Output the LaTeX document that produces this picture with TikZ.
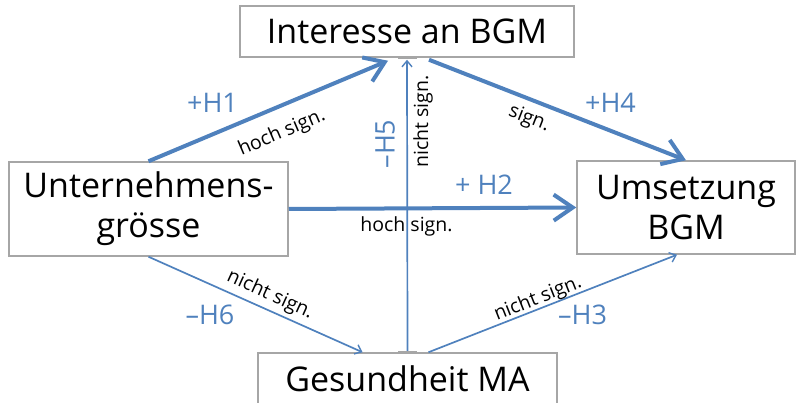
\documentclass[tikz,border=0pt]{standalone}
\usepackage{fontspec}
\setmainfont{Open Sans}
\usetikzlibrary{arrows.meta,calc}
\definecolor{boxgray}{RGB}{166,166,166}
\definecolor{linkblue}{RGB}{79,129,189}
\begin{document}
\begin{tikzpicture}[x=1pt,y=-1pt,
  box/.style={draw=boxgray, line width=1.5pt, fill=white, inner sep=0pt,
    align=center, font=\fontsize{34}{40}\selectfont},
  strong/.style={draw=linkblue, line width=4pt,
    -{Straight Barb[length=19pt,width=26pt,line width=4pt]}},
  weak/.style={draw=linkblue, line width=1.7pt,
    -{Straight Barb[length=6pt,width=10pt,line width=1.4pt]}},
  hyp/.style={text=linkblue, font=\fontsize{27}{32}\selectfont, inner sep=0pt},
  sig/.style={font=\fontsize{19.5}{23}\selectfont, inner sep=0pt},
  handle/.style={fill=boxgray, draw=none}]

\useasboundingbox (0,0) rectangle (798,403);

% variables
\node[box, minimum width=334pt, minimum height=51pt] (interesse) at (407,31.5) {Interesse an BGM};
\node[box, minimum width=279pt, minimum height=94pt] (unternehmen) at (148.5,209) {Unternehmens-\\grösse};
\node[box, minimum width=218pt, minimum height=93pt] (umsetzung) at (686,207.5) {Umsetzung\\BGM};
\node[box, minimum width=299pt, minimum height=52pt] (gesundheit) at (407.5,379) {Gesundheit MA};

% hypotheses
\draw[strong] (unternehmen.north) -- ($(interesse.south)+(-19,3)$);
\draw[strong] ($(interesse.south)+(22,2)$) -- (umsetzung.north);
\draw[strong] (unternehmen.east) -- (umsetzung.west);
\draw[weak] (unternehmen.south) -- ($(gesundheit.north)+(-45,0)$);
\draw[weak] ($(gesundheit.north)+(21,0)$) -- ($(umsetzung.south)+(-9,0)$);
\draw[weak] (gesundheit.north) -- ($(interesse.south)+(0,2)$);

% connection handles of the vertical link
\fill[handle] ($(interesse.south)+(-9.5,-1.5)$) rectangle +(19,3);
\fill[handle] ($(gesundheit.north)+(-9.5,-1.5)$) rectangle +(19,3);

% hypothesis labels
\node[hyp, anchor=base] (h1) at (212.5,113) {+H1};
\node[hyp, anchor=base] (h2) at (484,195) {+ H2};
\node[hyp, anchor=base] (h3) at (582.5,325) {\textendash H3};
\node[hyp, anchor=base] (h4) at (610.5,113) {+H4};
\node[hyp, rotate=90] (h5) at (385,144) {\textendash H5};
\node[hyp, anchor=base] (h6) at (210,325) {\textendash H6};

% significance labels
\node[sig, rotate=23.1] (s1) at (282,133) {hoch sign.};
\node[sig, anchor=base] (s2) at (406.5,232) {hoch sign.};
\node[sig, rotate=21.6] (s3) at (538,299) {nicht sign.};
\node[sig, rotate=-21.2] (s4) at (529,119) {sign.};
\node[sig, rotate=90] (s5) at (423,121.5) {nicht sign.};
\node[sig, rotate=-24.4] (s6) at (270,295) {nicht sign.};
\end{tikzpicture}
\end{document}
